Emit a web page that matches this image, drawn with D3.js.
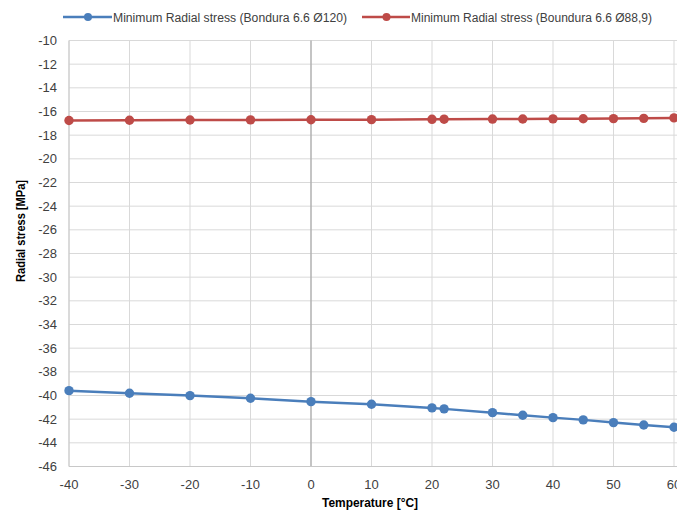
<!DOCTYPE html>
<html><head><meta charset="utf-8">
<script src="https://cdn.jsdelivr.net/npm/d3@7"></script>
<style>body{margin:0;background:#fff}svg{display:block}</style>
</head><body>
<script>
const temperatures = [-40,-30,-20,-10,0,10,20,22,30,35,40,45,50,55,60];
const stressD120 = [-39.59,-39.81,-40.01,-40.23,-40.52,-40.74,-41.05,-41.13,-41.45,-41.67,-41.87,-42.06,-42.29,-42.49,-42.68];
const stressD889 = [-16.76,-16.74,-16.72,-16.71,-16.70,-16.69,-16.66,-16.65,-16.64,-16.63,-16.62,-16.61,-16.60,-16.58,-16.54];
const seriesNames = ["Minimum Radial stress (Bondura 6.6 Ø120)","Minimum Radial stress (Boundura 6.6 Ø88,9)"];
const seriesColors = ["#4a7ebb","#be4b48"];
const xTicks = [-40,-30,-20,-10,0,10,20,30,40,50,60];
const yTicks = d3.range(-46,-9,2);

const W=677,H=512;
const svg=d3.select("body").append("svg").attr("width",W).attr("height",H);
const font="'Liberation Sans Narrow','Liberation Sans',Arial,sans-serif";
const x=d3.scaleLinear().domain([-40,60]).range([69,674]);
const y=d3.scaleLinear().domain([-46,-10]).range([466.5,40.5]);

const g=svg.append("g");
g.selectAll("line.h").data(yTicks).join("line").attr("x1",69).attr("x2",677)
 .attr("y1",d=>y(d)).attr("y2",d=>y(d)).attr("stroke","#d9d9d9").attr("stroke-width",1);
g.selectAll("line.v").data(xTicks).join("line").attr("y1",40.5).attr("y2",466.5)
 .attr("x1",d=>x(d)).attr("x2",d=>x(d)).attr("stroke",d=>d===0?"#b0b0b0":"#d9d9d9").attr("stroke-width",d=>d===0?1.5:1);
g.append("line").attr("x1",69).attr("x2",69).attr("y1",40.5).attr("y2",466.5).attr("stroke","#c8c8c8");
g.append("line").attr("x1",69).attr("x2",677).attr("y1",466.5).attr("y2",466.5).attr("stroke","#c8c8c8");

svg.selectAll("text.yt").data(yTicks).join("text").attr("x",57).attr("y",d=>y(d)+4.5)
 .attr("text-anchor","end").attr("font-family",font).attr("font-size",13).attr("fill","#404040").text(d=>d);
svg.selectAll("text.xt").data(xTicks).join("text").attr("x",d=>x(d)).attr("y",489)
 .attr("text-anchor","middle").attr("font-family",font).attr("font-size",13).attr("fill","#404040").text(d=>d);

svg.append("text").attr("x",322).attr("y",507).attr("font-family",font)
 .attr("font-weight","bold").attr("font-size",12.5).attr("fill","#000")
 .attr("textLength",96).attr("lengthAdjust","spacingAndGlyphs").text("Temperature [°C]");
svg.append("text").attr("transform","translate(25,282) rotate(-90)").attr("font-family",font)
 .attr("font-weight","bold").attr("font-size",12).attr("fill","#000")
 .attr("textLength",102).attr("lengthAdjust","spacingAndGlyphs").text("Radial stress [MPa]");

const data=[stressD120,stressD889];
data.forEach((vals,i)=>{
  const pts=temperatures.map((t,j)=>[t,vals[j]]);
  svg.append("path").datum(pts).attr("fill","none").attr("stroke",seriesColors[i]).attr("stroke-width",2.5)
   .attr("d",d3.line().x(d=>x(d[0])).y(d=>y(d[1])));
  svg.selectAll(null).data(pts).join("circle").attr("cx",d=>x(d[0])).attr("cy",d=>y(d[1])).attr("r",4.7)
   .attr("fill",seriesColors[i]);
});

const leg=[{x0:63,tx:113,w:234},{x0:362,tx:411,w:241}];
leg.forEach((l,i)=>{
  svg.append("line").attr("x1",l.x0).attr("x2",l.tx-1).attr("y1",17).attr("y2",17).attr("stroke",seriesColors[i]).attr("stroke-width",2.5);
  svg.append("circle").attr("cx",(l.x0+l.tx)/2).attr("cy",17).attr("r",4).attr("fill",seriesColors[i]);
  svg.append("text").attr("x",l.tx).attr("y",21.5).attr("font-family",font).attr("font-size",12.5).attr("fill","#404040")
   .attr("textLength",l.w).attr("lengthAdjust","spacingAndGlyphs").text(seriesNames[i]);
});
</script>
</body></html>
